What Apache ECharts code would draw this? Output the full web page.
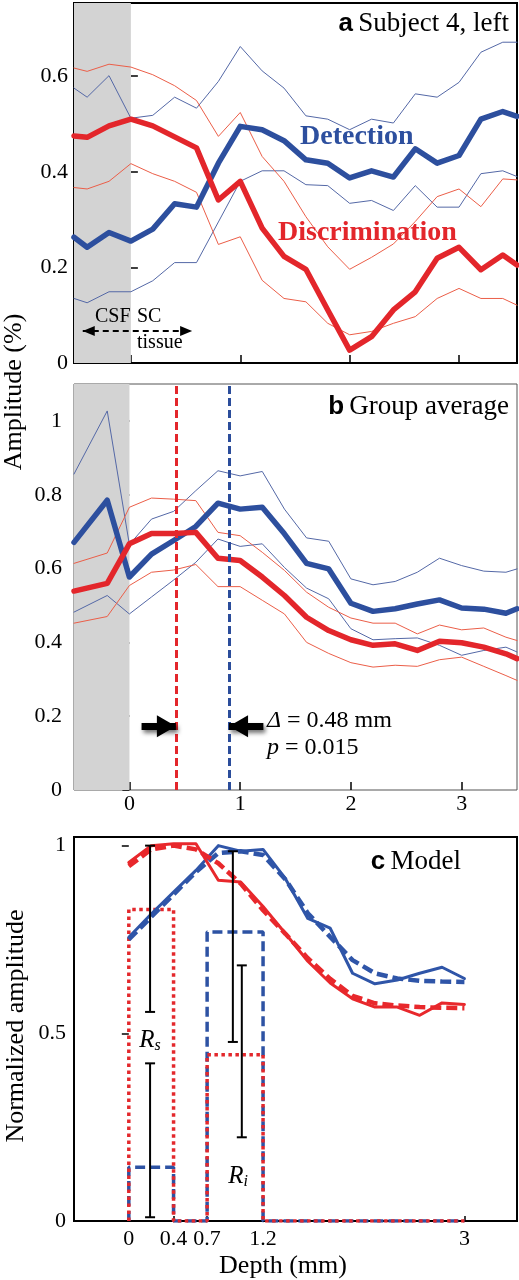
<!DOCTYPE html>
<html><head><meta charset="utf-8">
<script src="https://cdn.jsdelivr.net/npm/echarts@6/dist/echarts.min.js"></script>
<style>html,body{margin:0;padding:0;background:#fff}#c{width:519px;height:1280px}</style>
</head><body><div id="c"></div>
<script>
// ---------- Panel a: Subject 4, left ----------
const depthA = [-0.52,-0.4,-0.2,0,0.2,0.4,0.6,0.8,1.0,1.2,1.4,1.6,1.8,2.0,2.2,2.4,2.6,2.8,3.0,3.2,3.4,3.53];
const detA    = [0.263,0.242,0.273,0.255,0.280,0.333,0.326,0.418,0.495,0.488,0.465,0.425,0.418,0.387,0.402,0.389,0.448,0.418,0.434,0.510,0.526,0.516];
const detHiA  = [0.575,0.556,0.601,0.512,0.518,0.556,0.533,0.589,0.662,0.611,0.575,0.517,0.510,0.488,0.510,0.502,0.563,0.556,0.587,0.650,0.671,0.671];
const detLoA  = [0.135,0.126,0.149,0.149,0.172,0.210,0.210,0.295,0.380,0.402,0.402,0.373,0.371,0.334,0.340,0.319,0.371,0.326,0.326,0.396,0.402,0.390];
const disA    = [0.475,0.472,0.496,0.510,0.496,0.473,0.450,0.341,0.380,0.282,0.223,0.196,0.111,0.027,0.055,0.111,0.149,0.219,0.242,0.195,0.226,0.205];
const disHiA  = [0.617,0.610,0.625,0.619,0.603,0.580,0.549,0.474,0.524,0.432,0.380,0.306,0.243,0.196,0.221,0.249,0.296,0.348,0.364,0.327,0.385,0.383];
const disLoA  = [0.367,0.364,0.380,0.417,0.396,0.380,0.357,0.248,0.264,0.173,0.135,0.128,0.083,0.059,0.066,0.083,0.097,0.135,0.156,0.135,0.135,0.121];
const yTicksA = [0,0.2,0.4,0.6];
const xTicksAB = [0,1,2,3];
const csfArrow = [[-0.44,0.067],[0.56,0.067]];

// ---------- Panel b: Group average ----------
const depthB = [-0.5,-0.2,0,0.2,0.4,0.6,0.8,1.0,1.2,1.4,1.6,1.8,2.0,2.2,2.4,2.6,2.8,3.0,3.2,3.4,3.5];
const detB    = [0.671,0.785,0.577,0.639,0.676,0.714,0.777,0.761,0.766,0.694,0.614,0.599,0.506,0.484,0.491,0.504,0.515,0.493,0.490,0.479,0.491];
const detHiB  = [0.856,1.027,0.665,0.734,0.755,0.811,0.865,0.851,0.863,0.761,0.683,0.674,0.572,0.556,0.565,0.590,0.628,0.608,0.593,0.590,0.599];
const detLoB  = [0.482,0.527,0.477,0.523,0.569,0.617,0.680,0.660,0.667,0.603,0.547,0.518,0.437,0.407,0.410,0.412,0.392,0.365,0.378,0.387,0.374];
const disB    = [0.539,0.560,0.667,0.695,0.695,0.698,0.628,0.622,0.577,0.527,0.468,0.432,0.407,0.392,0.396,0.378,0.403,0.399,0.387,0.369,0.356];
const disHiB  = [0.614,0.642,0.766,0.791,0.788,0.784,0.698,0.689,0.644,0.595,0.536,0.495,0.466,0.452,0.452,0.423,0.447,0.434,0.439,0.414,0.405];
const disLoB  = [0.452,0.470,0.554,0.590,0.596,0.611,0.551,0.551,0.514,0.477,0.400,0.370,0.345,0.333,0.338,0.335,0.353,0.360,0.335,0.310,0.297];
const yTicksB = [0,0.2,0.4,0.6,0.8,1];
const peakDis = 0.42, peakDet = 0.90;
const arrowY = 0.173;
const arrowL = [[0.11,arrowY],[peakDis,arrowY]];
const arrowR = [[1.21,arrowY],[peakDet,arrowY]];

// ---------- Panel c: Model ----------
const depthC = [0,0.2,0.4,0.6,0.8,1.0,1.2,1.4,1.6,1.8,2.0,2.2,2.4,2.6,2.8,3.0];
const redDataC   = [0.955,1.0,1.005,1.005,0.908,0.903,0.838,0.766,0.692,0.634,0.592,0.570,0.570,0.548,0.581,0.577];
const redModelC  = [0.945,0.99,1.0,0.99,0.953,0.899,0.828,0.765,0.700,0.645,0.600,0.580,0.574,0.570,0.568,0.567];
const blueDataC  = [0.756,0.818,0.876,0.934,1.0,0.985,0.99,0.912,0.806,0.780,0.660,0.632,0.642,0.660,0.676,0.646];
const blueModelC = [0.75,0.81,0.87,0.93,0.98,0.985,0.975,0.91,0.82,0.757,0.695,0.660,0.646,0.640,0.638,0.637];
const stepX      = [0,0,0.4,0.4,0.7,0.7,1.2,1.2,3];
const redStepY   = [0,0.83,0.83,0,0,0.443,0.443,0,0];
const blueStepY  = [0,0.143,0.143,0,0,0.77,0.77,0,0];
const errX  = [0.19,0.19,0.93,1.01];
const errLo = [0.557,0.01,0.477,0.223];
const errHi = [1.0,0.42,0.985,0.681];
const xTicksC = [0,0.4,0.7,1.2,3];
const yTicksC = [0,0.5,1];

// ---------- styles ----------
const BLUE = '#2d4f9e', RED = '#e3262b', TBLUE = '#5468a6', TRED = '#eb5e48', GRAY = '#d3d3d3';
const SERIF = 'Liberation Serif';
const pair = (xs, ys) => xs.map((x, i) => [x, ys[i]]);

function line(xi, data, color, width, extra) {
  return Object.assign({
    type: 'line', xAxisIndex: xi, yAxisIndex: xi, data: data,
    showSymbol: false, symbol: 'none', silent: true, animation: false,
    lineStyle: { color: color, width: width, join: 'round', cap: 'round' }
  }, extra || {});
}
function xAxisDef(gi, min, max, ticks, showLabel, tickLen, margin) {
  return {
    type: 'value', gridIndex: gi, min: min, max: max,
    axisLine: { show: false }, splitLine: { show: false },
    axisTick: { show: true, inside: true, length: tickLen, customValues: ticks, lineStyle: { color: '#000', width: 1.5 } },
    axisLabel: { show: showLabel, customValues: ticks, margin: margin, color: '#000', fontFamily: SERIF, fontSize: 22 }
  };
}
function yAxisDef(gi, max, ticks, inside, margin) {
  return {
    type: 'value', gridIndex: gi, min: 0, max: max,
    axisLine: { show: false }, splitLine: { show: false },
    axisTick: { show: true, inside: inside, length: 7, customValues: ticks, lineStyle: { color: '#000', width: 1.5 } },
    axisLabel: { customValues: ticks, margin: margin, color: '#000', fontFamily: SERIF, fontSize: 22 }
  };
}
const arrowShadow = { shadowBlur: 4, shadowColor: 'rgba(0,0,0,0.55)', shadowOffsetX: 2, shadowOffsetY: 3 };

const series = [
  // ---- panel a ----
  line(0, pair(depthA, detHiA), TBLUE, 1, {
    markArea: { silent: true, itemStyle: { color: GRAY }, data: [[{ xAxis: -0.52 }, { xAxis: 0 }]] }
  }),
  line(0, pair(depthA, detLoA), TBLUE, 1),
  line(0, pair(depthA, disHiA), TRED, 1),
  line(0, pair(depthA, disLoA), TRED, 1),
  line(0, pair(depthA, detA), BLUE, 5.5),
  line(0, pair(depthA, disA), RED, 5.5, {
    markLine: {
      silent: true, animation: false, label: { show: false },
      symbol: ['triangle', 'triangle'], symbolSize: [10, 12],
      symbolOffset: [[0, '50%'], [0, '50%']],
      lineStyle: { color: '#000', width: 2, type: [6, 4] },
      data: [[{ coord: csfArrow[0] }, { coord: csfArrow[1] }]]
    }
  }),
  // ---- panel b ----
  line(1, pair(depthB, detHiB), TBLUE, 1, {
    markArea: { silent: true, itemStyle: { color: GRAY }, data: [[{ xAxis: -0.5 }, { xAxis: 0 }]] }
  }),
  line(1, pair(depthB, detLoB), TBLUE, 1),
  line(1, pair(depthB, disHiB), TRED, 1),
  line(1, pair(depthB, disLoB), TRED, 1),
  line(1, pair(depthB, detB), BLUE, 5.5),
  line(1, pair(depthB, disB), RED, 5.5),
  // overlay that fades the lines inside the CSF band
  line(1, [[-0.5, 1.1], [0, 1.1]], GRAY, 0, {
    z: 3, lineStyle: { width: 0, opacity: 0 },
    areaStyle: { color: 'rgba(211,211,211,0.32)', origin: 'start' }
  }),
  line(1, [], '#000', 0, {
    z: 6,
    markLine: {
      silent: true, animation: false, symbol: 'none', label: { show: false },
      data: [
        { xAxis: peakDis, lineStyle: { color: RED, width: 3, type: [8, 4] } },
        { xAxis: peakDet, lineStyle: { color: '#2b4d9b', width: 3, type: [8, 4] } }
      ]
    }
  }),
  line(1, [], '#000', 0, {
    z: 7,
    markLine: {
      silent: true, animation: false, label: { show: false },
      symbol: ['none', 'triangle'], symbolSize: [22, 19],
      symbolOffset: [0, [0, '50%']],
      lineStyle: Object.assign({ color: '#000', width: 7, type: 'solid' }, arrowShadow),
      data: [
        [{ coord: arrowL[0] }, { coord: arrowL[1] }],
        [{ coord: arrowR[0] }, { coord: arrowR[1] }]
      ]
    }
  }),
  // ---- panel c ----
  line(2, pair(stepX, blueStepY), '#2d52a3', 3.5, { lineStyle: { color: '#2d52a3', width: 3.5, type: [10, 5], cap: 'butt' } }),
  line(2, pair(stepX, redStepY), '#e3282c', 3.5, { lineStyle: { color: '#e3282c', width: 3.5, type: [3.5, 3.5], cap: 'butt' } }),
  line(2, pair(depthC, blueDataC), '#2f55a8', 3),
  line(2, pair(depthC, blueModelC), '#2f55a8', 4, { lineStyle: { color: '#2f55a8', width: 4.5, type: [11, 5], cap: 'butt' } }),
  line(2, pair(depthC, redDataC), '#e8282c', 3),
  line(2, pair(depthC, redModelC), '#e8282c', 4, { lineStyle: { color: '#e8282c', width: 4.5, type: [11, 5], cap: 'butt' } }),
  {
    type: 'custom', xAxisIndex: 2, yAxisIndex: 2, silent: true, animation: false, z: 5,
    data: errX.map((x, i) => [x, errLo[i], errHi[i]]),
    encode: { x: 0, y: [1, 2] },
    renderItem: function (params, api) {
      const x = api.value(0), lo = api.value(1), hi = api.value(2);
      const a = api.coord([x, hi]), b = api.coord([x, lo]);
      const cap = 5, st = { stroke: '#000', lineWidth: 2 };
      return {
        type: 'group', children: [
          { type: 'line', shape: { x1: a[0], y1: a[1], x2: b[0], y2: b[1] }, style: st },
          { type: 'line', shape: { x1: a[0] - cap, y1: a[1], x2: a[0] + cap, y2: a[1] }, style: st },
          { type: 'line', shape: { x1: b[0] - cap, y1: b[1], x2: b[0] + cap, y2: b[1] }, style: st }
        ]
      };
    }
  }
];

const T = (x, y, rich, text, align, extra) => Object.assign({
  type: 'text', x: x, y: y, silent: true, z: 100,
  style: { text: text, rich: rich, textAlign: align || 'left', textVerticalAlign: 'middle', fill: '#000', font: '21px ' + SERIF }
}, extra || {});
const panelRich = {
  b: { fontFamily: 'Liberation Sans', fontWeight: 'bold', fontSize: 26, fill: '#000' },
  t: { fontFamily: SERIF, fontSize: 27, fill: '#000' }
};
const plain = (x, y, text, font, fill, align, extra) => Object.assign({
  type: 'text', x: x, y: y, silent: true, z: 100,
  style: { text: text, textAlign: align || 'left', textVerticalAlign: 'middle', fill: fill || '#000', font: font }
}, extra || {});

const option = {
  animation: false,
  backgroundColor: '#fff',
  grid: [
    { left: 74, top: 3, width: 443, height: 360, show: true, borderColor: '#000', borderWidth: 2, backgroundColor: 'transparent' },
    { left: 74, top: 384, width: 443, height: 406, show: true, borderColor: '#555', borderWidth: 1, backgroundColor: 'transparent' },
    { left: 74, top: 837, width: 443, height: 384, show: true, borderColor: '#000', borderWidth: 2, backgroundColor: 'transparent' }
  ],
  xAxis: [
    xAxisDef(0, -0.52, 3.53, xTicksAB, false, 8, 3),
    xAxisDef(1, -0.5, 3.5, xTicksAB, true, 8, 3),
    xAxisDef(2, -0.49, 3.47, xTicksC, true, 5, 7)
  ],
  yAxis: [
    yAxisDef(0, 0.753, yTicksA, true, 6),
    yAxisDef(1, 1.1, yTicksB, false, 12),
    yAxisDef(2, 1.023, yTicksC, false, 8)
  ],
  series: series,
  graphic: [
    T(509, 24, panelRich, '{b|a} {t|Subject 4, left}', 'right'),
    T(509, 407, panelRich, '{b|b} {t|Group average}', 'right'),
    T(461, 862, panelRich, '{b|c} {t|Model}', 'right'),
    plain(300, 137, 'Detection', 'bold 28px ' + SERIF, BLUE),
    plain(278, 233, 'Discrimination', 'bold 28px ' + SERIF, RED),
    plain(95, 317, 'CSF', '20px ' + SERIF),
    plain(137, 317, 'SC', '20px ' + SERIF),
    plain(137, 343, 'tissue', '20px ' + SERIF),
    T(267, 721, { i: { fontFamily: SERIF, fontStyle: 'italic', fontSize: 24, fill: '#000' }, n: { fontFamily: SERIF, fontSize: 24, fill: '#000' } }, '{i|Δ}{n| = 0.48 mm}', 'left'),
    T(267, 748, { i: { fontFamily: SERIF, fontStyle: 'italic', fontSize: 24, fill: '#000' }, n: { fontFamily: SERIF, fontSize: 24, fill: '#000' } }, '{i|p}{n| = 0.015}', 'left'),
    T(150, 1040, { r: { fontFamily: SERIF, fontStyle: 'italic', fontSize: 25, fill: '#000' }, s: { fontFamily: SERIF, fontStyle: 'italic', fontSize: 16, fill: '#000', padding: [12, 0, 0, 0] } }, '{r|R}{s|s}', 'center'),
    T(238, 1176, { r: { fontFamily: SERIF, fontStyle: 'italic', fontSize: 25, fill: '#000' }, s: { fontFamily: SERIF, fontStyle: 'italic', fontSize: 16, fill: '#000', padding: [12, 0, 0, 0] } }, '{r|R}{s|i}', 'center'),
    plain(14, 392, 'Amplitude (%)', '26px ' + SERIF, '#000', 'center', { rotation: Math.PI / 2 }),
    plain(16, 1026, 'Normalized amplitude', '26px ' + SERIF, '#000', 'center', { rotation: Math.PI / 2 }),
    plain(283, 1266, 'Depth (mm)', '26px ' + SERIF, '#000', 'center')
  ]
};
const chart = echarts.init(document.getElementById('c'), null, { renderer: 'canvas' });
chart.setOption(option);
</script>
</body></html>
